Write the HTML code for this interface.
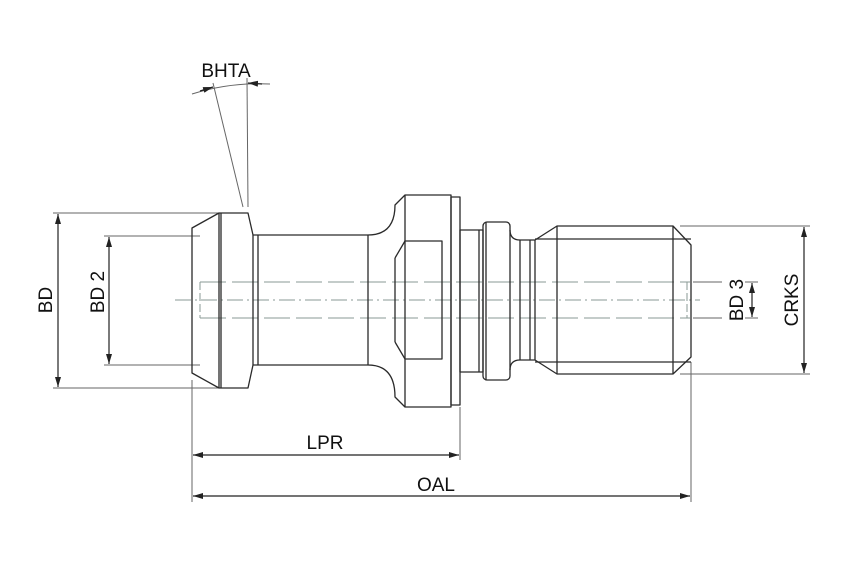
<!DOCTYPE html>
<html><head><style>body{margin:0;background:#fff}svg{display:block}</style></head><body>
<svg width="850" height="567" viewBox="0 0 850 567" xmlns="http://www.w3.org/2000/svg" font-family="Liberation Sans, sans-serif">
<defs>
<marker id="a" markerWidth="10" markerHeight="8" refX="10" refY="4" orient="auto-start-reverse" markerUnits="userSpaceOnUse"><path d="M0,1 L10,4 L0,7 Z" fill="#222"/></marker>
</defs>
<!-- dim extension lines -->
<g stroke="#666" stroke-width="1" fill="none">
<line x1="53" y1="213" x2="220" y2="213"/><line x1="53" y1="388" x2="220" y2="388"/>
<line x1="104" y1="236" x2="200" y2="236"/><line x1="104" y1="365" x2="200" y2="365"/>
<line x1="680" y1="226" x2="810" y2="226"/><line x1="680" y1="374" x2="810" y2="374"/>
<line x1="693" y1="282" x2="722" y2="282"/><line x1="693" y1="318" x2="722" y2="318"/>
<line x1="745" y1="282" x2="758" y2="282"/><line x1="745" y1="318" x2="758" y2="318"/>
<line x1="192" y1="380" x2="192" y2="502"/><line x1="460" y1="407" x2="460" y2="460"/><line x1="691" y1="362" x2="691" y2="502"/>
<line x1="248" y1="207" x2="247" y2="78"/><line x1="243" y1="207" x2="213" y2="83"/>
</g>
<g stroke="#222" stroke-width="1.2" fill="none">
<line x1="58" y1="214" x2="58" y2="387" marker-start="url(#a)" marker-end="url(#a)"/>
<line x1="109" y1="237" x2="109" y2="364" marker-start="url(#a)" marker-end="url(#a)"/>
<line x1="804" y1="227" x2="804" y2="373" marker-start="url(#a)" marker-end="url(#a)"/>
<line x1="752" y1="283" x2="752" y2="317" marker-start="url(#a)" marker-end="url(#a)"/>
<line x1="193" y1="455" x2="459" y2="455" marker-start="url(#a)" marker-end="url(#a)"/>
<line x1="193" y1="496" x2="690" y2="496" marker-start="url(#a)" marker-end="url(#a)"/>
<path d="M192,94 Q230,82 270,84" stroke="#666" stroke-width="1"/>
<path d="M200,91 L213,87" marker-end="url(#a)"/>
<path d="M262,84 L248,83" marker-end="url(#a)"/>
</g>
<!-- hidden/center lines -->
<g stroke="#8a9a94" stroke-width="1" fill="none">
<line x1="200" y1="282" x2="690" y2="282" stroke-dasharray="26,6"/>
<line x1="200" y1="318" x2="690" y2="318" stroke-dasharray="26,6"/>
<line x1="175" y1="300" x2="700" y2="300" stroke-dasharray="16,4,2,4"/>
<line x1="200" y1="282" x2="200" y2="318" stroke-dasharray="8,3"/>
<line x1="687" y1="282" x2="687" y2="318" stroke-dasharray="8,3"/>
</g>
<!-- part outline -->
<g stroke="#2a2a2a" stroke-width="1.3" fill="none" stroke-linejoin="round">
<path d="M192,228 L219,213 L248,213 L253,235 L368,235 Q395,235 395,205 L405,195 L451,195 L451,407 L405,407 L395,397 Q395,365 368,365 L253,365 L248,388 L219,388 L192,373 Z"/>
<line x1="219" y1="213" x2="219" y2="388"/><line x1="221" y1="213" x2="221" y2="388"/>
<line x1="253" y1="235" x2="253" y2="365"/><line x1="258" y1="235" x2="258" y2="365"/>
<line x1="368" y1="235" x2="368" y2="365"/>
<rect x="405" y="241" width="37" height="118"/>
<line x1="395" y1="258" x2="405" y2="241"/><line x1="395" y1="342" x2="405" y2="359"/>
<line x1="405" y1="195" x2="405" y2="241"/><line x1="405" y1="359" x2="405" y2="407"/>
<line x1="395" y1="258" x2="395" y2="342"/>
<rect x="451" y="197" width="9" height="208"/>
<rect x="460" y="230" width="23" height="142"/><line x1="479" y1="230" x2="479" y2="372"/>
<rect x="483" y="222" width="27" height="158" rx="4"/><line x1="486" y1="222" x2="486" y2="380"/>
<path d="M510,230 Q510,240 520,240 L535,240 L557,226 L673,226 L691,245 L691,357 L673,374 L557,374 L535,360 L520,360 Q510,360 510,370"/>
<line x1="520" y1="240" x2="520" y2="360"/><line x1="530" y1="240" x2="530" y2="360"/>
<line x1="535" y1="240" x2="535" y2="360"/>
<line x1="557" y1="226" x2="557" y2="374"/><line x1="673" y1="226" x2="673" y2="374"/>
<line x1="535" y1="239" x2="691" y2="239"/><line x1="535" y1="362" x2="691" y2="362"/>
</g>
<!-- labels -->
<g fill="#111" font-size="19">
<text x="226" y="77" text-anchor="middle">BHTA</text>
<text x="325" y="449" text-anchor="middle">LPR</text>
<text x="436" y="491" text-anchor="middle">OAL</text>
<text transform="translate(52,300) rotate(-90)" text-anchor="middle">BD</text>
<text transform="translate(104,292) rotate(-90)" text-anchor="middle">BD 2</text>
<text transform="translate(743,300) rotate(-90)" text-anchor="middle">BD 3</text>
<text transform="translate(798,300) rotate(-90)" text-anchor="middle">CRKS</text>
</g>
</svg>
</body></html>
